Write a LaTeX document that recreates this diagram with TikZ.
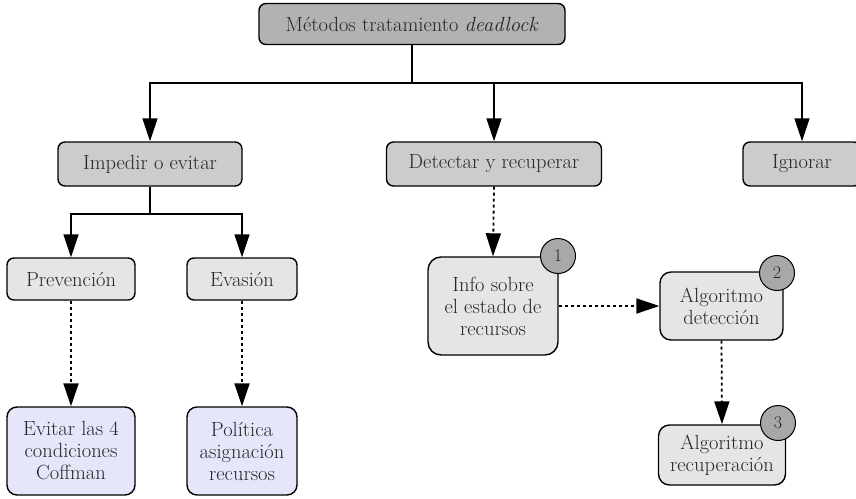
\documentclass[tikz,border=0pt]{standalone}
\usepackage{fontspec}
\usetikzlibrary{arrows.meta}
\definecolor{rootfill}{gray}{0.70}
\definecolor{midfill}{gray}{0.80}
\definecolor{leaffill}{gray}{0.90}
\definecolor{policyfill}{RGB}{230,230,250}
\definecolor{stepfill}{gray}{0.66}
\definecolor{ink}{gray}{0.15}
\begin{document}
\begin{tikzpicture}[x=1pt,y=-1pt,
  font=\fontsize{20.5}{22}\selectfont,
  box/.style={draw=black,line width=1.4pt,rounded corners=7pt,align=center,inner sep=0pt,text=ink},
  rootbox/.style={box,fill=rootfill},
  midbox/.style={box,fill=midfill},
  leafbox/.style={box,fill=leaffill},
  policybox/.style={box,fill=policyfill,rounded corners=10pt},
  badge/.style={circle,draw=black,line width=1pt,fill=stepfill,minimum size=35pt,inner sep=0pt,text=ink,font=\fontsize{18}{20}\selectfont},
  tree/.style={line width=1.6pt,-{Triangle[length=23pt,width=15pt]}},
  flow/.style={line width=1.8pt,dash pattern=on 3pt off 3pt,-{Triangle[length=23pt,width=15pt]}}]
\useasboundingbox (0,0) rectangle (856,498);
\clip (0,0) rectangle (856,498);

% levels of the tree
\node[rootbox,minimum width=306pt,minimum height=41pt] (root) at (412,24) {Métodos tratamiento \textit{deadlock}};
\node[midbox,minimum width=184pt,minimum height=44pt] (avoid) at (150,164) {Impedir o evitar};
\node[midbox,minimum width=215pt,minimum height=44pt] (detect) at (494,164) {Detectar y recuperar};
\node[midbox,minimum width=118pt,minimum height=44pt] (ignore) at (802,164) {Ignorar};
\node[leafbox,minimum width=128pt,minimum height=42pt] (prev) at (71,279) {Prevención};
\node[leafbox,minimum width=110pt,minimum height=42pt] (evas) at (242,279) {Evasión};
\node[policybox,minimum width=128pt,minimum height=88pt] (coff) at (71,451) {Evitar las 4\\condiciones\\Coffman};
\node[policybox,minimum width=110pt,minimum height=88pt] (alloc) at (242,451) {Política\\asignación\\recursos};

% detection pipeline
\node[leafbox,rounded corners=13pt,minimum width=130pt,minimum height=98pt] (info) at (493,306) {Info sobre\\el estado de\\recursos};
\node[leafbox,rounded corners=11pt,minimum width=123pt,minimum height=68pt] (algdet) at (721.5,306) {Algoritmo\\detección};
\node[leafbox,rounded corners=11pt,minimum width=127pt,minimum height=60pt] (algrec) at (722,455) {Algoritmo\\recuperación};
\node[badge] (b1) at (558,256) {1};
\node[badge] (b2) at (777,273) {2};
\node[badge] (b3) at (778,423) {3};

% connectors
\draw[tree] (root.south) -- ++(0,38) -| (avoid.north);
\draw[tree] (root.south) -- ++(0,38) -| (detect.north);
\draw[tree] (root.south) -- ++(0,38) -| (ignore.north);
\draw[tree] (avoid.south) -- ++(0,27) -| (prev.north);
\draw[tree] (avoid.south) -- ++(0,27) -| (evas.north);
\draw[flow] (prev) -- (coff);
\draw[flow] (evas) -- (alloc);
\draw[flow] (detect.south) -- (info.north);
\draw[flow] (info.east) -- (algdet.west);
\draw[flow] (algdet.south) -- (algrec.north);
\end{tikzpicture}
\end{document}
